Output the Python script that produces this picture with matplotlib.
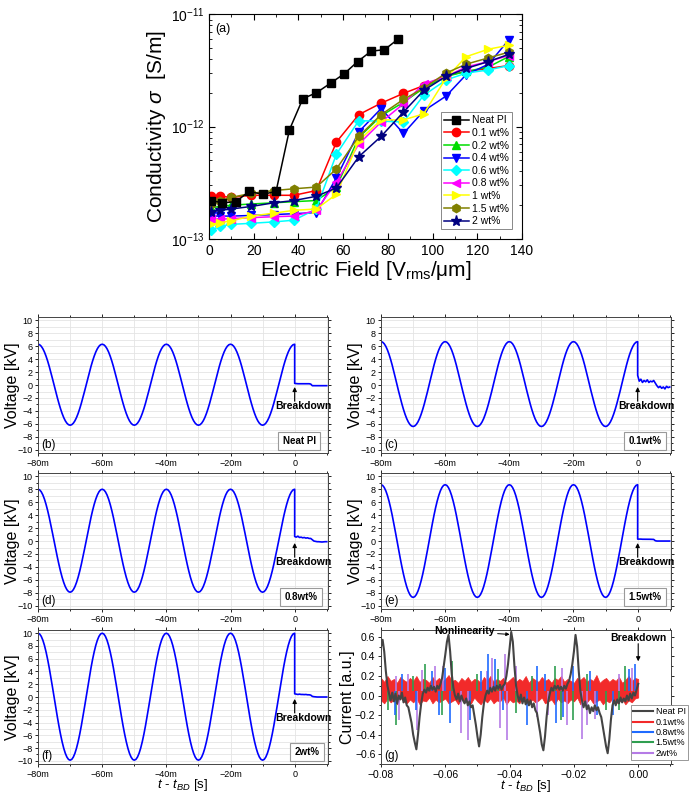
import numpy as np
import matplotlib
matplotlib.use("Agg")
import matplotlib.pyplot as plt
from matplotlib.ticker import MultipleLocator, FuncFormatter, LogLocator, NullFormatter
from matplotlib.lines import Line2D

plt.rcParams['font.family'] = ['Liberation Sans', 'DejaVu Sans']
plt.rcParams['mathtext.fontset'] = 'custom'
plt.rcParams['mathtext.rm'] = 'Liberation Sans'
plt.rcParams['mathtext.it'] = 'Liberation Sans:italic'
plt.rcParams['mathtext.bf'] = 'Liberation Sans:bold'

# ---------------- (a) conductivity vs field ----------------
field_neat = [1, 6, 12, 18, 24, 30, 36, 42, 48, 54.5, 60.5, 66.5, 72.5, 78.5, 84.5]
sig_neat = [2.2, 2.1, 2.15, 2.65, 2.5, 2.65, 9.4, 17.8, 20, 24.5, 29.6, 38, 47, 48.5, 60]

field = [1, 5, 10, 19, 29, 38, 48, 57, 67, 77, 87, 96, 106, 115, 125, 134]
sig_01 = [2.4, 2.4, 2.35, 2.45, 2.45, 2.45, 2.7, 7.3, 12.8, 16.2, 19.8, 23.2, 28.5, 31, 33, 35]
sig_02 = [1.9, 1.95, 2.0, 2.05, 2.1, 2.15, 2.2, 2.9, 8.0, 12.5, 16.5, 22, 28, 31, 34, 42]
sig_04 = [1.6, 1.6, 1.6, 1.62, 1.65, 1.68, 1.72, 3.5, 9.0, 14.5, 8.7, 13.8, 18.7, 29, 36, 59]
sig_06 = [1.2, 1.3, 1.35, 1.38, 1.42, 1.47, 1.85, 5.7, 11.3, 11.2, 11.0, 19, 26, 30, 32, 35]
sig_08 = [1.5, 1.5, 1.52, 1.55, 1.58, 1.6, 1.8, 3.2, 7.0, 11, 16, 24, 28, 34, 38, 43]
sig_1 = [1.35, 1.4, 1.45, 1.6, 1.7, 1.8, 1.85, 2.5, 7.5, 11.5, 11.5, 13, 27, 42, 49, 53]
sig_15 = [2.05, 2.2, 2.35, 2.55, 2.7, 2.8, 2.9, 4.2, 8.2, 12.8, 17.5, 22, 30, 36, 41, 46]
sig_2 = [1.75, 1.8, 1.85, 1.95, 2.1, 2.2, 2.4, 2.85, 5.4, 8.2, 13.5, 21, 28, 33, 38, 44]

cond_labels = ['Neat PI', '0.1 wt%', '0.2 wt%', '0.4 wt%', '0.6 wt%',
               '0.8 wt%', '1 wt%', '1.5 wt%', '2 wt%']

# ---------------- (b)-(f) voltage waveforms ----------------
# one 50 Hz period, sampled every 0.5 ms, normalised
v_shape = [1.000, 0.988, 0.951, 0.891, 0.809, 0.707, 0.588, 0.454, 0.309, 0.156,
           0.000, -0.156, -0.309, -0.454, -0.588, -0.707, -0.809, -0.891, -0.951, -0.988,
           -1.000, -0.988, -0.951, -0.891, -0.809, -0.707, -0.588, -0.454, -0.309, -0.156,
           0.000, 0.156, 0.309, 0.454, 0.588, 0.707, 0.809, 0.891, 0.951, 0.988]
v_pos = [6.3, 6.7, 8.0, 8.7, 10.0]
v_neg = [6.2, 6.4, 7.9, 8.7, 9.9]
# voltage after breakdown, every 0.5 ms from 0 to 10 ms
tail_b = [0.25, 0.22, 0.2, 0.2, 0.2, 0.2, 0.2, 0.2, 0.2, 0.2, 0.15,
          -0.1, -0.1, -0.1, -0.1, -0.1, -0.1, -0.1, -0.1, -0.1, -0.1]
tail_c = [1.5, 0.6, 0.9, 0.4, 0.7, 0.5, 0.8, 0.4, 0.6, 0.5, 0.7,
          0.3, -0.1, -0.4, -0.2, -0.5, -0.3, -0.6, -0.2, -0.4, -0.3]
tail_d = [0.7, 0.6, 0.75, 0.55, 0.6, 0.5, 0.55, 0.45, 0.5, 0.4, 0.4,
          0.2, 0.0, -0.05, -0.1, -0.1, -0.12, -0.15, -0.12, -0.1, -0.1]
tail_e = [0.3, 0.3, 0.3, 0.28, 0.28, 0.28, 0.27, 0.27, 0.27, 0.26, 0.25,
          0.05, 0.0, 0.0, 0.0, 0.0, 0.0, 0.0, 0.0, 0.0, 0.0]
tail_f = [0.5, 0.45, 0.4, 0.45, 0.4, 0.4, 0.38, 0.4, 0.35, 0.35, 0.3,
          0.1, 0.05, 0.02, 0.0, 0.0, 0.0, 0.0, 0.0, 0.0, 0.0]
v_tails = [tail_b, tail_c, tail_d, tail_e, tail_f]
v_names = ['Neat PI', '0.1wt%', '0.8wt%', '1.5wt%', '2wt%']
v_letters = ['(b)', '(c)', '(d)', '(e)', '(f)']

# ---------------- (g) leakage current ----------------
# Neat PI current, every 0.5 ms from -80 ms to 0
cur_neat = [0.50, 0.57, 0.45, 0.25, 0.10, 0.02, -0.05, 0.03, -0.06, 0.02,
            -0.08, 0.00, -0.04, 0.03, -0.07, -0.02, -0.10, -0.12, -0.20, -0.28,
            -0.40, -0.48, -0.55, -0.40, -0.22, -0.08, 0.02, 0.06, 0.03, 0.08,
            0.05, 0.10, 0.06, 0.09, 0.04, 0.10, 0.07, 0.12, 0.18, 0.30,
            0.42, 0.55, 0.62, 0.45, 0.22, 0.08, 0.00, -0.04, 0.02, -0.06,
            0.00, -0.05, -0.08, -0.03, -0.10, -0.06, -0.12, -0.10, -0.20, -0.30,
            -0.42, -0.52, -0.40, -0.22, -0.08, 0.00, 0.05, 0.02, 0.08, 0.04,
            0.09, 0.05, 0.10, 0.07, 0.11, 0.06, 0.10, 0.12, 0.20, 0.32,
            0.48, 0.65, 0.55, 0.30, 0.10, 0.00, -0.06, 0.01, -0.08, -0.02,
            -0.09, -0.04, -0.10, -0.05, -0.12, -0.08, -0.15, -0.18, -0.28, -0.38,
            -0.50, -0.56, -0.42, -0.22, -0.06, 0.02, 0.08, 0.05, 0.10, 0.07,
            0.10, 0.06, 0.09, 0.05, 0.10, 0.07, 0.12, 0.15, 0.22, 0.32,
            0.45, 0.62, 0.50, 0.25, 0.05, -0.05, -0.12, -0.06, -0.14, -0.10,
            -0.18, -0.12, -0.16, -0.10, -0.15, -0.12, -0.18, -0.22, -0.32, -0.42,
            -0.52, -0.59, -0.45, -0.25, -0.10, -0.05, -0.10, -0.04, -0.08, -0.02,
            -0.07, -0.03, -0.06, 0.00, -0.05, 0.02, -0.03, 0.03, 0.00, 0.06,
            0.12]
# 0.1wt% noise band, every 1 ms
red_hi = [0.18, 0.14, 0.20, 0.15, 0.17, 0.13, 0.19, 0.16, 0.14, 0.18,
          0.15, 0.20, 0.14, 0.17, 0.16, 0.13, 0.19, 0.15, 0.18, 0.14,
          0.17, 0.21, 0.15, 0.16, 0.13, 0.18, 0.15, 0.19, 0.14, 0.17,
          0.16, 0.13, 0.19, 0.15, 0.20, 0.14, 0.17, 0.15, 0.18, 0.13,
          0.16, 0.19, 0.14, 0.17, 0.15, 0.20, 0.13, 0.18, 0.16, 0.14,
          0.19, 0.15, 0.17, 0.13, 0.18, 0.16, 0.20, 0.14, 0.17, 0.15,
          0.13, 0.18, 0.16, 0.19, 0.14, 0.17, 0.15, 0.21, 0.13, 0.16,
          0.18, 0.14, 0.17, 0.15, 0.19, 0.13, 0.16, 0.20, 0.15, 0.18,
          0.17]
red_lo = [-0.05, -0.08, -0.03, -0.07, -0.04, -0.09, -0.02, -0.06, -0.08, -0.04,
          -0.07, -0.03, -0.09, -0.05, -0.06, -0.02, -0.08, -0.04, -0.07, -0.05,
          -0.03, -0.08, -0.06, -0.04, -0.09, -0.03, -0.07, -0.05, -0.08, -0.02,
          -0.06, -0.09, -0.04, -0.07, -0.03, -0.08, -0.05, -0.06, -0.02, -0.09,
          -0.04, -0.07, -0.05, -0.08, -0.03, -0.06, -0.09, -0.04, -0.07, -0.05,
          -0.02, -0.08, -0.06, -0.04, -0.09, -0.03, -0.07, -0.05, -0.08, -0.04,
          -0.06, -0.02, -0.09, -0.05, -0.07, -0.03, -0.08, -0.06, -0.04, -0.09,
          -0.05, -0.07, -0.03, -0.08, -0.06, -0.04, -0.09, -0.05, -0.07, -0.03,
          -0.02]
# spikes sticking out of the band
blue_t = [-0.0757, -0.0735, -0.0690, -0.0640, -0.0620, -0.0600, -0.0585, -0.0523,
          -0.0490, -0.0467, -0.0445, -0.0420, -0.0347, -0.0316, -0.0290, -0.0257,
          -0.0235, -0.0202, -0.0150, -0.0128, -0.0080, -0.0030, -0.0010]
blue_v = [-0.20, 0.22, -0.15, 0.25, -0.20, 0.28, -0.28, -0.25, 0.25, 0.42, 0.37,
          -0.15, -0.30, 0.30, 0.22, -0.28, -0.22, 0.30, 0.25, -0.20, -0.20, 0.27, 0.32]
green_t = [-0.0777, -0.0752, -0.0700, -0.0663, -0.0610, -0.0580, -0.0500, -0.0435,
           -0.0380, -0.0330, -0.0260, -0.0240, -0.0202, -0.0160, -0.0100, -0.0060,
           -0.0040]
green_v = [-0.15, -0.30, 0.20, 0.32, -0.20, 0.35, 0.22, 0.27, -0.18, 0.20, 0.30,
           -0.25, -0.25, 0.22, -0.15, -0.15, 0.30]
purple_t = [-0.0753, -0.0745, -0.0715, -0.0689, -0.0674, -0.0632, -0.0606, -0.0550,
            -0.0528, -0.0470, -0.0456, -0.0430, -0.0415, -0.0409, -0.0380, -0.0316,
            -0.0280, -0.0238, -0.0220, -0.0176, -0.0160, -0.0133, -0.0060, -0.0020]
purple_v = [0.20, -0.25, 0.22, -0.35, 0.26, 0.30, 0.30, -0.38, -0.45, 0.25, 0.38,
            -0.33, 0.42, -0.45, 0.30, -0.22, -0.20, 0.28, -0.30, -0.44, -0.30, -0.24,
            0.22, 0.28]


def minus(s):
    return s.replace('-', '\u2212')


fig = plt.figure(figsize=(6.89, 7.98), dpi=100)

# ---------- panel (a) ----------
ax = fig.add_axes([0.3033, 0.7005, 0.4543, 0.2815])
styles = [('black', 's'), ('#ff0000', 'o'), ('#00dd00', '^'), ('#0000ff', 'v'),
          ('#00ffff', 'D'), ('#ff00ff', '<'), ('#ffff00', '>'), ('#808000', 'h'),
          ('#000080', '*')]
series = [sig_01, sig_02, sig_04, sig_06, sig_08, sig_1, sig_15, sig_2]
ax.plot(field_neat, np.array(sig_neat) * 1e-13, color='black', marker='s', ms=5.5,
        lw=1.1, label=cond_labels[0], zorder=3)
for s, (c, m), lab in zip(series, styles[1:], cond_labels[1:]):
    ms = 8 if m == '*' else 6
    if m == 'D':
        ms = 5.5
    ax.plot(field, np.array(s) * 1e-13, color=c, marker=m, ms=ms, lw=1.1, label=lab)
ax.set_yscale('log')
ax.set_xlim(0, 140)
ax.set_ylim(1e-13, 1e-11)
ax.xaxis.set_major_locator(MultipleLocator(20))
ax.xaxis.set_minor_locator(MultipleLocator(10))
ax.yaxis.set_minor_locator(LogLocator(base=10, subs=np.arange(2, 10)))
ax.yaxis.set_minor_formatter(NullFormatter())
ax.tick_params(which='both', direction='in', top=True, right=True, labelsize=10)
ax.tick_params(which='major', length=4)
ax.tick_params(which='minor', length=2)
ax.set_xlabel('Electric Field [V$_{\\mathrm{rms}}$/\u03bcm]', fontsize=15, labelpad=1)
ax.set_ylabel('Conductivity $\\sigma$  [S/m]', fontsize=15, labelpad=2)
ax.text(0.02, 0.96, '(a)', transform=ax.transAxes, fontsize=9, va='top')
leg = ax.legend(loc='lower right', bbox_to_anchor=(0.985, 0.02), fontsize=7.5,
                handlelength=2.4, labelspacing=0.25, borderpad=0.3,
                handletextpad=0.3, fancybox=False, edgecolor='#888888',
                framealpha=1)
leg.get_frame().set_linewidth(0.7)

# ---------- panels (b)-(f) ----------
v_boxes = [[0.0552, 0.4323], [0.553, 0.4323], [0.0552, 0.2368],
           [0.553, 0.2368], [0.0552, 0.0426]]
box_x = [0.90, 0.909, 0.908, 0.91, 0.927]
t_wave = np.arange(161) * 0.5e-3 - 0.08
t_tail = np.arange(21) * 0.5e-3
shape = np.array(v_shape)[np.arange(161) % 40]

for i in range(5):
    h = 0.1704 if i < 4 else 0.1679
    ax = fig.add_axes([v_boxes[i][0], v_boxes[i][1], 0.4209, h])
    wave = np.where(shape >= 0, shape * v_pos[i], shape * v_neg[i])
    t_all = np.concatenate([t_wave, t_tail])
    v_all = np.concatenate([wave, v_tails[i]])
    ax.plot(t_all, v_all, color='#0000ff', lw=1.2)
    ax.set_xlim(-0.08, 0.0104)
    ax.set_ylim(-10.5, 10.5)
    ax.xaxis.set_major_locator(MultipleLocator(0.02))
    ax.xaxis.set_minor_locator(MultipleLocator(0.01))
    ax.yaxis.set_major_locator(MultipleLocator(2))
    ax.yaxis.set_minor_locator(MultipleLocator(1))
    ax.xaxis.set_major_formatter(FuncFormatter(
        lambda x, p: '0' if abs(x) < 1e-9 else minus('%.0fm' % (x * 1e3))))
    ax.yaxis.set_major_formatter(FuncFormatter(lambda y, p: minus('%.0f' % y)))
    ax.grid(which='both', color='#e4e4e4', lw=0.6)
    ax.set_axisbelow(True)
    ax.tick_params(which='both', direction='out', top=True, right=True,
                   labelsize=6.5, width=0.6, pad=1.5)
    ax.tick_params(which='major', length=2.5)
    ax.tick_params(which='minor', length=1.5)
    for sp in ax.spines.values():
        sp.set_linewidth(0.7)
        sp.set_color('#444444')
    ax.set_ylabel('Voltage [kV]', fontsize=11.5)
    ax.yaxis.set_label_coords(-0.062, 0.5)
    ax.text(0.012, 0.04, v_letters[i], transform=ax.transAxes, fontsize=8.5)
    ax.text(box_x[i], 0.089, v_names[i], transform=ax.transAxes, ha='center',
            va='center', fontsize=7, fontweight='bold',
            bbox=dict(boxstyle='square,pad=0.45', fc='white', ec='#9a9a9a', lw=0.8))
    ax.annotate('', xy=(0, -0.3), xytext=(0, -2.5),
                arrowprops=dict(arrowstyle='-|>', color='black', lw=0.8,
                                mutation_scale=6, shrinkA=0, shrinkB=0))
    ax.text(0.0028, -3.3, 'Breakdown', ha='center', va='center', fontsize=7.5,
            fontweight='bold')
    if i == 4:
        ax.set_xlabel('$t$ - $t_{BD}$ [s]', fontsize=9.5, labelpad=-1)

# ---------- panel (g) ----------
ax = fig.add_axes([0.553, 0.0426, 0.4209, 0.1679])
t_cur = np.arange(161) * 0.5e-3 - 0.08
t_red = np.arange(81) * 1e-3 - 0.08
c_neat, c_01, c_08, c_15, c_2 = '#444444', '#f22a2a', '#1f6bff', '#2f9e50', '#b57be6'
ax.vlines(purple_t, 0.05, purple_v, color=c_2, lw=1.2)
ax.vlines(green_t, 0.05, green_v, color=c_15, lw=1.2)
ax.vlines(blue_t, 0.05, blue_v, color=c_08, lw=1.2)
ax.fill_between(t_red, red_lo, red_hi, color=c_01, lw=0.5)
ax.plot(t_cur, cur_neat, color=c_neat, lw=1.5)
ax.set_xlim(-0.08, 0.0102)
ax.set_ylim(-0.7, 0.67)
ax.xaxis.set_major_locator(MultipleLocator(0.02))
ax.xaxis.set_minor_locator(MultipleLocator(0.01))
ax.yaxis.set_major_locator(MultipleLocator(0.2))
ax.yaxis.set_minor_locator(MultipleLocator(0.1))
ax.xaxis.set_major_formatter(FuncFormatter(
    lambda x, p: '0.00' if abs(x) < 1e-9 else minus('%.2f' % x)))
ax.yaxis.set_major_formatter(FuncFormatter(
    lambda y, p: '0.0' if abs(y) < 1e-9 else minus('%.1f' % y)))
ax.tick_params(which='both', direction='out', top=True, right=True,
               labelsize=7.5, width=0.6, pad=1.5)
ax.tick_params(which='major', length=2.5)
ax.tick_params(which='minor', length=1.5)
for sp in ax.spines.values():
    sp.set_linewidth(0.7)
    sp.set_color('#444444')
ax.set_ylabel('Current [a.u.]', fontsize=11.5)
ax.yaxis.set_label_coords(-0.088, 0.5)
ax.set_xlabel('$t$ - $t_{BD}$ [s]', fontsize=9.5, labelpad=-1)
ax.text(0.012, 0.04, '(g)', transform=ax.transAxes, fontsize=8.5)
ax.annotate('Nonlinearity', xy=(-0.0400, 0.625), xytext=(-0.0540, 0.655),
            ha='center', va='center', fontsize=7.5, fontweight='bold',
            arrowprops=dict(arrowstyle='-|>', color='black', lw=0.7,
                            mutation_scale=5, shrinkA=0, shrinkB=0),
            annotation_clip=False)
ax.text(0.0, 0.59, 'Breakdown', ha='center', va='center', fontsize=7.5,
        fontweight='bold')
ax.annotate('', xy=(0, 0.35), xytext=(0, 0.53),
            arrowprops=dict(arrowstyle='-|>', color='black', lw=0.8,
                            mutation_scale=6, shrinkA=0, shrinkB=0))
handles = [Line2D([], [], color=c, lw=1.5) for c in [c_neat, c_01, c_08, c_15, c_2]]
leg = ax.legend(handles, v_names, loc='lower left', bbox_to_anchor=(0.862, 0.03),
                fontsize=6.5, handlelength=2.2, labelspacing=0.15, borderpad=0.25,
                handletextpad=0.3, fancybox=False, edgecolor='#888888',
                framealpha=1, borderaxespad=0)
leg.get_frame().set_linewidth(0.6)

fig.savefig('out.png', dpi=100)
